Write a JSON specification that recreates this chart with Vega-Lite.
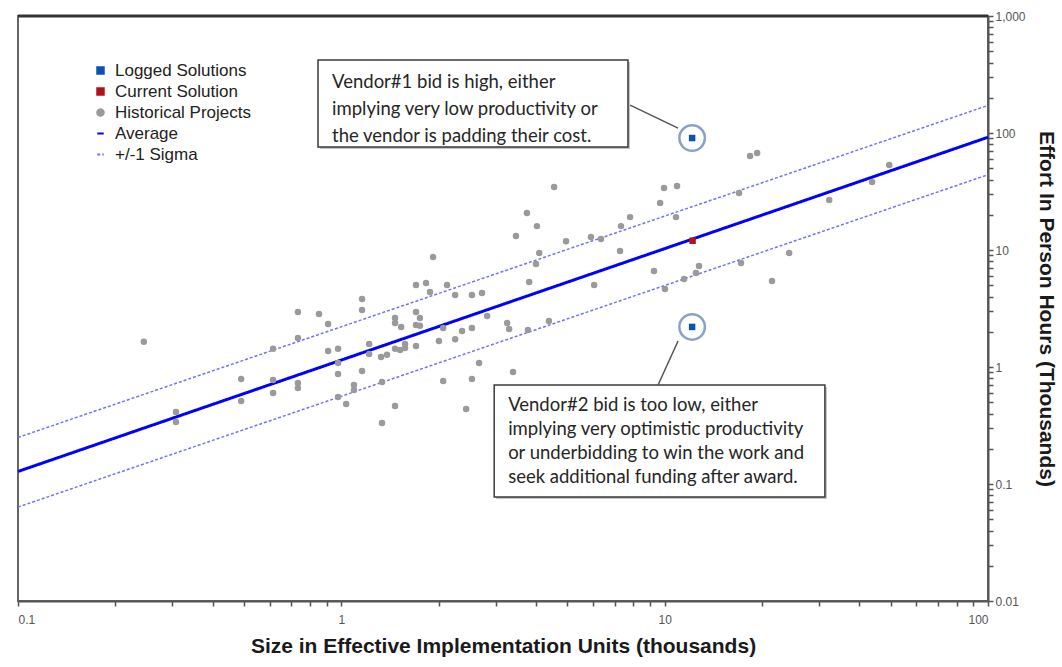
{
  "$schema": "https://vega.github.io/schema/vega-lite/v6.json",
  "width": 970,
  "height": 585,
  "autosize": {"type": "none"},
  "padding": {"left": 18, "top": 16, "right": 74, "bottom": 66},
  "background": "white",
  "config": {
    "view": {"stroke": "#666", "strokeWidth": 2},
    "font": "Liberation Sans",
    "axis": {
      "grid": false, "domainColor": "#555", "domainWidth": 2, "tickColor": "#555", "tickWidth": 1.5, "tickSize": 5,
      "labelColor": "#555", "labelFont": "Liberation Sans", "labelFontSize": 12,
      "titleFont": "Liberation Sans", "titleFontWeight": "bold", "titleFontSize": 21, "titleColor": "#1a1a1a"
    },
    "legend": {
      "orient": "none", "legendX": 74, "legendY": 46, "padding": 0,
      "labelFont": "Liberation Sans", "labelFontSize": 17, "labelColor": "#222", "rowPadding": 3, "labelOffset": 6
    }
  },
  "datasets": {
    "pts": [
      {"x": 0.245, "y": 1.64, "series": "Historical Projects"},
      {"x": 0.308, "y": 0.412, "series": "Historical Projects"},
      {"x": 0.308, "y": 0.339, "series": "Historical Projects"},
      {"x": 0.490, "y": 0.789, "series": "Historical Projects"},
      {"x": 0.490, "y": 0.512, "series": "Historical Projects"},
      {"x": 0.615, "y": 0.774, "series": "Historical Projects"},
      {"x": 0.615, "y": 0.600, "series": "Historical Projects"},
      {"x": 0.615, "y": 1.43, "series": "Historical Projects"},
      {"x": 0.734, "y": 2.95, "series": "Historical Projects"},
      {"x": 0.734, "y": 1.77, "series": "Historical Projects"},
      {"x": 0.734, "y": 0.730, "series": "Historical Projects"},
      {"x": 0.734, "y": 0.662, "series": "Historical Projects"},
      {"x": 0.853, "y": 2.84, "series": "Historical Projects"},
      {"x": 0.910, "y": 2.33, "series": "Historical Projects"},
      {"x": 0.910, "y": 1.37, "series": "Historical Projects"},
      {"x": 0.977, "y": 1.43, "series": "Historical Projects"},
      {"x": 0.977, "y": 1.08, "series": "Historical Projects"},
      {"x": 0.977, "y": 0.871, "series": "Historical Projects"},
      {"x": 0.977, "y": 0.555, "series": "Historical Projects"},
      {"x": 1.035, "y": 0.483, "series": "Historical Projects"},
      {"x": 1.094, "y": 0.702, "series": "Historical Projects"},
      {"x": 1.094, "y": 0.636, "series": "Historical Projects"},
      {"x": 1.159, "y": 3.81, "series": "Historical Projects"},
      {"x": 1.159, "y": 3.07, "series": "Historical Projects"},
      {"x": 1.159, "y": 0.924, "series": "Historical Projects"},
      {"x": 1.219, "y": 1.57, "series": "Historical Projects"},
      {"x": 1.219, "y": 1.29, "series": "Historical Projects"},
      {"x": 1.327, "y": 1.22, "series": "Historical Projects"},
      {"x": 1.384, "y": 1.27, "series": "Historical Projects"},
      {"x": 1.336, "y": 0.745, "series": "Historical Projects"},
      {"x": 1.336, "y": 0.332, "series": "Historical Projects"},
      {"x": 1.466, "y": 2.62, "series": "Historical Projects"},
      {"x": 1.466, "y": 2.38, "series": "Historical Projects"},
      {"x": 1.466, "y": 1.43, "series": "Historical Projects"},
      {"x": 1.520, "y": 1.40, "series": "Historical Projects"},
      {"x": 1.574, "y": 1.57, "series": "Historical Projects"},
      {"x": 1.574, "y": 1.45, "series": "Historical Projects"},
      {"x": 1.466, "y": 0.465, "series": "Historical Projects"},
      {"x": 1.531, "y": 2.20, "series": "Historical Projects"},
      {"x": 1.702, "y": 5.02, "series": "Historical Projects"},
      {"x": 1.702, "y": 2.95, "series": "Historical Projects"},
      {"x": 1.702, "y": 2.29, "series": "Historical Projects"},
      {"x": 1.750, "y": 2.62, "series": "Historical Projects"},
      {"x": 1.750, "y": 2.25, "series": "Historical Projects"},
      {"x": 1.702, "y": 1.51, "series": "Historical Projects"},
      {"x": 1.828, "y": 5.22, "series": "Historical Projects"},
      {"x": 1.880, "y": 4.38, "series": "Historical Projects"},
      {"x": 1.922, "y": 8.71, "series": "Historical Projects"},
      {"x": 2.004, "y": 1.67, "series": "Historical Projects"},
      {"x": 2.065, "y": 2.15, "series": "Historical Projects"},
      {"x": 2.065, "y": 0.759, "series": "Historical Projects"},
      {"x": 2.123, "y": 5.02, "series": "Historical Projects"},
      {"x": 2.249, "y": 4.12, "series": "Historical Projects"},
      {"x": 2.249, "y": 1.73, "series": "Historical Projects"},
      {"x": 2.362, "y": 2.03, "series": "Historical Projects"},
      {"x": 2.432, "y": 0.438, "series": "Historical Projects"},
      {"x": 2.535, "y": 4.12, "series": "Historical Projects"},
      {"x": 2.535, "y": 2.15, "series": "Historical Projects"},
      {"x": 2.535, "y": 0.789, "series": "Historical Projects"},
      {"x": 2.667, "y": 1.08, "series": "Historical Projects"},
      {"x": 2.723, "y": 4.29, "series": "Historical Projects"},
      {"x": 2.825, "y": 2.73, "series": "Historical Projects"},
      {"x": 3.258, "y": 2.38, "series": "Historical Projects"},
      {"x": 3.304, "y": 2.11, "series": "Historical Projects"},
      {"x": 3.396, "y": 0.906, "series": "Historical Projects"},
      {"x": 3.776, "y": 2.07, "series": "Historical Projects"},
      {"x": 4.385, "y": 2.47, "series": "Historical Projects"},
      {"x": 3.467, "y": 13.2, "series": "Historical Projects"},
      {"x": 3.750, "y": 20.7, "series": "Historical Projects"},
      {"x": 4.027, "y": 16.0, "series": "Historical Projects"},
      {"x": 4.550, "y": 34.5, "series": "Historical Projects"},
      {"x": 4.955, "y": 11.9, "series": "Historical Projects"},
      {"x": 5.916, "y": 12.9, "series": "Historical Projects"},
      {"x": 6.353, "y": 12.4, "series": "Historical Projects"},
      {"x": 4.093, "y": 9.42, "series": "Historical Projects"},
      {"x": 4.000, "y": 7.59, "series": "Historical Projects"},
      {"x": 3.811, "y": 5.32, "series": "Historical Projects"},
      {"x": 6.053, "y": 5.02, "series": "Historical Projects"},
      {"x": 7.278, "y": 9.80, "series": "Historical Projects"},
      {"x": 7.328, "y": 16.0, "series": "Historical Projects"},
      {"x": 7.816, "y": 19.1, "series": "Historical Projects"},
      {"x": 9.268, "y": 6.62, "series": "Historical Projects"},
      {"x": 9.683, "y": 25.2, "series": "Historical Projects"},
      {"x": 9.954, "y": 33.9, "series": "Historical Projects"},
      {"x": 10.92, "y": 35.2, "series": "Historical Projects"},
      {"x": 10.84, "y": 19.1, "series": "Historical Projects"},
      {"x": 10.02, "y": 4.64, "series": "Historical Projects"},
      {"x": 11.48, "y": 5.65, "series": "Historical Projects"},
      {"x": 12.50, "y": 6.36, "series": "Historical Projects"},
      {"x": 12.77, "y": 7.29, "series": "Historical Projects"},
      {"x": 16.98, "y": 30.7, "series": "Historical Projects"},
      {"x": 18.37, "y": 63.6, "series": "Historical Projects"},
      {"x": 19.32, "y": 67.5, "series": "Historical Projects"},
      {"x": 17.22, "y": 7.74, "series": "Historical Projects"},
      {"x": 21.48, "y": 5.43, "series": "Historical Projects"},
      {"x": 24.27, "y": 9.42, "series": "Historical Projects"},
      {"x": 32.28, "y": 26.8, "series": "Historical Projects"},
      {"x": 43.8, "y": 38.1, "series": "Historical Projects"},
      {"x": 49.5, "y": 53.2, "series": "Historical Projects"},
      {"x": 12.16, "y": 90.6, "series": "Logged Solutions"},
      {"x": 12.16, "y": 2.20, "series": "Logged Solutions"},
      {"x": 12.2, "y": 12.0, "series": "Current Solution"}
    ],
    "lines": [
      {"x": 0.1, "y": 0.128, "series": "Average", "line": "avg"},
      {"x": 100, "y": 92, "series": "Average", "line": "avg"},
      {"x": 0.1, "y": 0.25, "series": "+/-1 Sigma", "line": "upper"},
      {"x": 100, "y": 172, "series": "+/-1 Sigma", "line": "upper"},
      {"x": 0.1, "y": 0.0635, "series": "+/-1 Sigma", "line": "lower"},
      {"x": 100, "y": 44, "series": "+/-1 Sigma", "line": "lower"}
    ],
    "notes": [
      {"id": "v1", "note": "Vendor#1 bid is high, either\nimplying very low productivity or\nthe vendor is padding their cost."},
      {"id": "v2", "note": "Vendor#2 bid is too low, either\nimplying very optimistic productivity\nor underbidding to win the work and\nseek additional funding after award."}
    ]
  },
  "layer": [
    {
      "data": {"name": "lines"},
      "transform": [{"filter": "datum.line !== 'avg'"}],
      "mark": {"type": "line", "strokeWidth": 1.5},
      "encoding": {
        "x": {
          "field": "x", "type": "quantitative",
          "scale": {"type": "log", "domain": [0.1, 100], "nice": false},
          "axis": {
            "title": "Size in Effective Implementation Units (thousands)",
            "values": [0.1,0.2,0.3,0.4,0.5,0.6,0.7,0.8,0.9,1,2,3,4,5,6,7,8,9,10,20,30,40,50,60,70,80,90,100],
            "labelExpr": "indexof([0.1,1,10,100], datum.value) >= 0 ? format(datum.value, '~g') : ''",
            "labelPadding": 8, "titlePadding": 10
          }
        },
        "y": {
          "field": "y", "type": "quantitative",
          "scale": {"type": "log", "domain": [0.01, 1000], "nice": false},
          "axis": {
            "orient": "right",
            "title": "Effort In Person Hours  (Thousands)",
            "titleAngle": 90,
            "values": [0.01,0.02,0.03,0.04,0.05,0.06,0.07,0.08,0.09,0.1,0.2,0.3,0.4,0.5,0.6,0.7,0.8,0.9,1,2,3,4,5,6,7,8,9,10,20,30,40,50,60,70,80,90,100,200,300,400,500,600,700,800,900,1000],
            "labelExpr": "indexof([0.01,0.1,1,10,100,1000], datum.value) >= 0 ? format(datum.value, ',~g') : ''",
            "labelPadding": 2, "titlePadding": 10
          }
        },
        "detail": {"field": "line"},
        "color": {"field": "series", "type": "nominal",
          "scale": {"domain": ["Logged Solutions","Current Solution","Historical Projects","Average","+/-1 Sigma"], "range": ["#0b52b3","#b3121b","#9a9a9a","#0000ff","#7272ff"]},
          "legend": {"title": null,
            "encode": {"symbols": {"update": {
              "fill": {"scale": "color", "field": "value"},
              "stroke": {"scale": "color", "field": "value"},
              "strokeDash": {"scale": "strokeDash", "field": "value"},
              "strokeWidth": {"value": 2},
              "opacity": {"value": 1}
            }}}}},
        "strokeDash": {"field": "series", "type": "nominal",
          "scale": {"domain": ["Logged Solutions","Current Solution","Historical Projects","Average","+/-1 Sigma"], "range": [[1,0],[1,0],[1,0],[1,0],[3,2]]},
          "legend": {"title": null}}
      }
    },
    {
      "data": {"name": "lines"},
      "transform": [{"filter": "datum.line === 'avg'"}],
      "mark": {"type": "line", "strokeWidth": 3},
      "encoding": {
        "x": {"field": "x", "type": "quantitative"},
        "y": {"field": "y", "type": "quantitative"},
        "color": {"field": "series", "type": "nominal"},
        "strokeDash": {"field": "series", "type": "nominal"}
      }
    },
    {
      "data": {"name": "pts"},
      "transform": [{"filter": "datum.series === 'Logged Solutions'"}],
      "mark": {"type": "point", "shape": "circle", "size": 650, "filled": false, "fill": "white", "fillOpacity": 1, "stroke": "#8aa2c8", "strokeWidth": 2.5, "opacity": 1},
      "encoding": {
        "x": {"field": "x", "type": "quantitative"},
        "y": {"field": "y", "type": "quantitative"}
      }
    },
    {
      "data": {"name": "pts"},
      "mark": {"type": "point", "filled": true, "opacity": 1},
      "encoding": {
        "x": {"field": "x", "type": "quantitative"},
        "y": {"field": "y", "type": "quantitative"},
        "color": {"field": "series", "type": "nominal"},
        "shape": {"field": "series", "type": "nominal",
          "scale": {"domain": ["Logged Solutions","Current Solution","Historical Projects","Average","+/-1 Sigma"], "range": ["square","square","circle","stroke","stroke"]},
          "legend": {"title": null}},
        "size": {"field": "series", "type": "nominal",
          "scale": {"domain": ["Logged Solutions","Current Solution","Historical Projects","Average","+/-1 Sigma"], "range": [42,42,14,900,900]},
          "legend": {"title": null}}
      }
    },
    {
      "data": {"name": "notes"},
      "transform": [{"filter": "datum.id === 'v1'"}],
      "mark": {"type": "rect", "fill": "#9a9a9a", "opacity": 0.6, "xOffset": 2, "x2Offset": 2, "yOffset": 2, "y2Offset": 2},
      "encoding": {"x": {"datum": 0.847, "type": "quantitative"}, "x2": {"datum": 7.70}, "y": {"datum": 421, "type": "quantitative"}, "y2": {"datum": 75.9}}
    },
    {
      "data": {"name": "notes"},
      "transform": [{"filter": "datum.id === 'v1'"}],
      "mark": {"type": "rect", "fill": "white", "stroke": "#3a3a3a", "strokeWidth": 1.5},
      "encoding": {"x": {"datum": 0.847, "type": "quantitative"}, "x2": {"datum": 7.70}, "y": {"datum": 421, "type": "quantitative"}, "y2": {"datum": 75.9}}
    },
    {
      "data": {"name": "notes"},
      "transform": [{"filter": "datum.id === 'v1'"}],
      "mark": {"type": "text", "align": "left", "baseline": "middle", "font": "Lato", "fontSize": 18.5, "color": "#262626", "lineBreak": "\n", "lineHeight": 27},
      "encoding": {"x": {"datum": 0.936, "type": "quantitative"}, "y": {"datum": 273, "type": "quantitative"}, "text": {"field": "note", "type": "nominal"}}
    },
    {
      "data": {"name": "notes"},
      "transform": [{"filter": "datum.id === 'v1'"}],
      "mark": {"type": "rule", "color": "#555", "strokeWidth": 1.5},
      "encoding": {"x": {"datum": 7.82, "type": "quantitative"}, "x2": {"datum": 11.0}, "y": {"datum": 173, "type": "quantitative"}, "y2": {"datum": 110}}
    },
    {
      "data": {"name": "notes"},
      "transform": [{"filter": "datum.id === 'v2'"}],
      "mark": {"type": "rect", "fill": "#9a9a9a", "opacity": 0.6, "xOffset": 2, "x2Offset": 2, "yOffset": 2, "y2Offset": 2},
      "encoding": {"x": {"datum": 2.97, "type": "quantitative"}, "x2": {"datum": 31.3}, "y": {"datum": 0.702, "type": "quantitative"}, "y2": {"datum": 0.0774}}
    },
    {
      "data": {"name": "notes"},
      "transform": [{"filter": "datum.id === 'v2'"}],
      "mark": {"type": "rect", "fill": "white", "stroke": "#3a3a3a", "strokeWidth": 1.5},
      "encoding": {"x": {"datum": 2.97, "type": "quantitative"}, "x2": {"datum": 31.3}, "y": {"datum": 0.702, "type": "quantitative"}, "y2": {"datum": 0.0774}}
    },
    {
      "data": {"name": "notes"},
      "transform": [{"filter": "datum.id === 'v2'"}],
      "mark": {"type": "text", "align": "left", "baseline": "middle", "font": "Lato", "fontSize": 18.5, "color": "#262626", "lineBreak": "\n", "lineHeight": 24},
      "encoding": {"x": {"datum": 3.28, "type": "quantitative"}, "y": {"datum": 0.473, "type": "quantitative"}, "text": {"field": "note", "type": "nominal"}}
    },
    {
      "data": {"name": "notes"},
      "transform": [{"filter": "datum.id === 'v2'"}],
      "mark": {"type": "rule", "color": "#555", "strokeWidth": 1.5},
      "encoding": {"x": {"datum": 9.54, "type": "quantitative"}, "x2": {"datum": 11.0}, "y": {"datum": 0.702, "type": "quantitative"}, "y2": {"datum": 1.67}}
    },
    {
      "data": {"name": "notes"},
      "transform": [{"filter": "datum.id === 'v1'"}],
      "mark": {"type": "rule", "color": "#333", "strokeWidth": 3},
      "encoding": {"y": {"datum": 1000, "type": "quantitative"}}
    }
  ]
}
